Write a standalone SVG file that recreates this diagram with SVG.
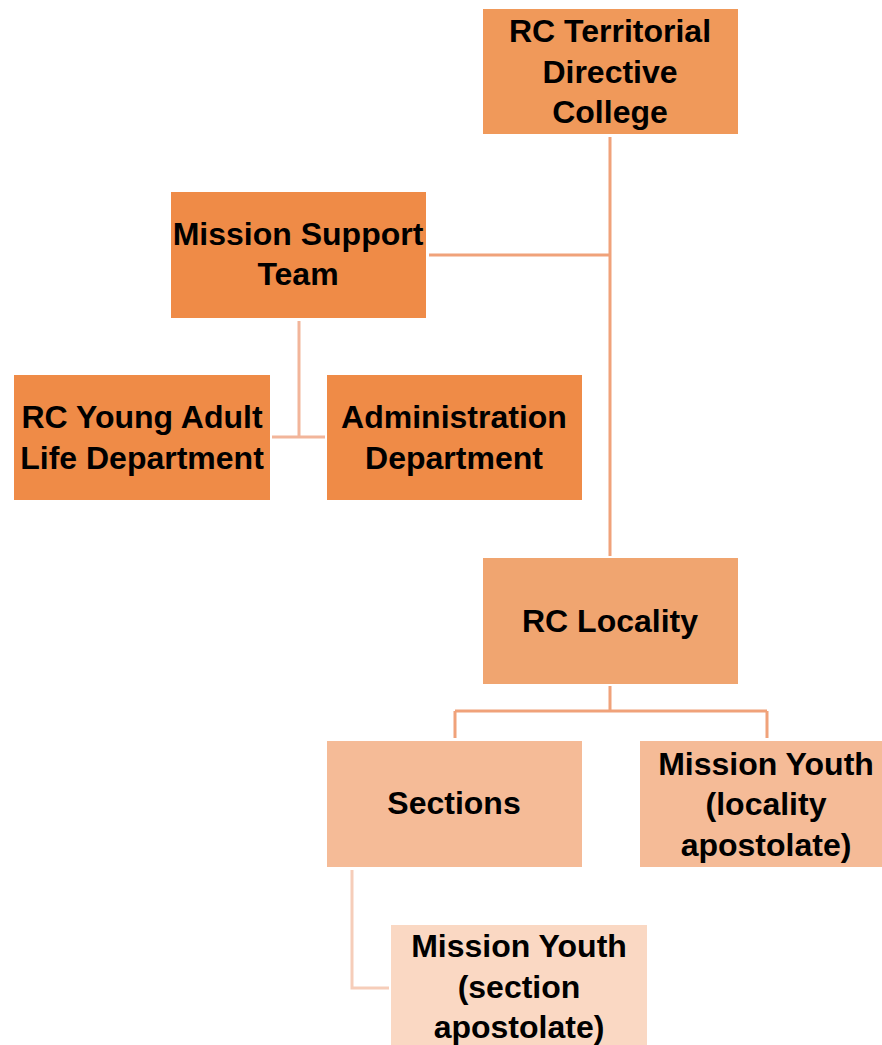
<svg xmlns="http://www.w3.org/2000/svg" width="882" height="1045" viewBox="0 0 882 1045">
<style>
text{font-family:"Liberation Sans",Arial,sans-serif;font-weight:bold;font-size:32px;fill:#000;text-anchor:middle}
.c{fill:none;stroke-width:3}
.c1{stroke:#F0A27A}
.c2{stroke:#F2B59A}
.c3{stroke:#F6CDB9}
</style>
<rect width="882" height="1045" fill="#fff"/>
<g id="connectors">
<path class="c c1" d="M610 137V556M429 255H610"/>
<path class="c c2" d="M299 321V437M272 437H325"/>
<path class="c c1" d="M610 686V711M455 711H767M455 711V738M767 711V738"/>
<path class="c c3" d="M352 870V988H389"/>
</g>
<g id="n1"><rect x="483" y="9" width="255" height="125" fill="#F0995A"/>
<text x="610" y="42">RC Territorial</text><text x="610" y="83">Directive</text><text x="610" y="123">College</text></g>
<g id="n2"><rect x="171" y="192" width="255" height="126" fill="#EF8B47"/>
<text x="298" y="245">Mission Support</text><text x="298" y="285">Team</text></g>
<g id="n3"><rect x="14" y="375" width="256" height="125" fill="#EF8B47"/>
<text x="142" y="428">RC Young Adult</text><text x="142" y="469">Life Department</text></g>
<g id="n4"><rect x="327" y="375" width="255" height="125" fill="#EF8B47"/>
<text x="454" y="428">Administration</text><text x="454" y="469">Department</text></g>
<g id="n5"><rect x="483" y="558" width="255" height="126" fill="#F0A570"/>
<text x="610" y="632">RC Locality</text></g>
<g id="n6"><rect x="327" y="741" width="255" height="126" fill="#F5BB97"/>
<text x="454" y="814">Sections</text></g>
<g id="n7"><rect x="640" y="741" width="255" height="126" fill="#F5BB97"/>
<text x="766" y="775">Mission Youth</text><text x="766" y="815">(locality</text><text x="766" y="856">apostolate)</text></g>
<g id="n8"><rect x="391" y="925" width="256" height="126" fill="#FAD8C3"/>
<text x="519" y="957">Mission Youth</text><text x="519" y="998">(section</text><text x="519" y="1038">apostolate)</text></g>
</svg>
